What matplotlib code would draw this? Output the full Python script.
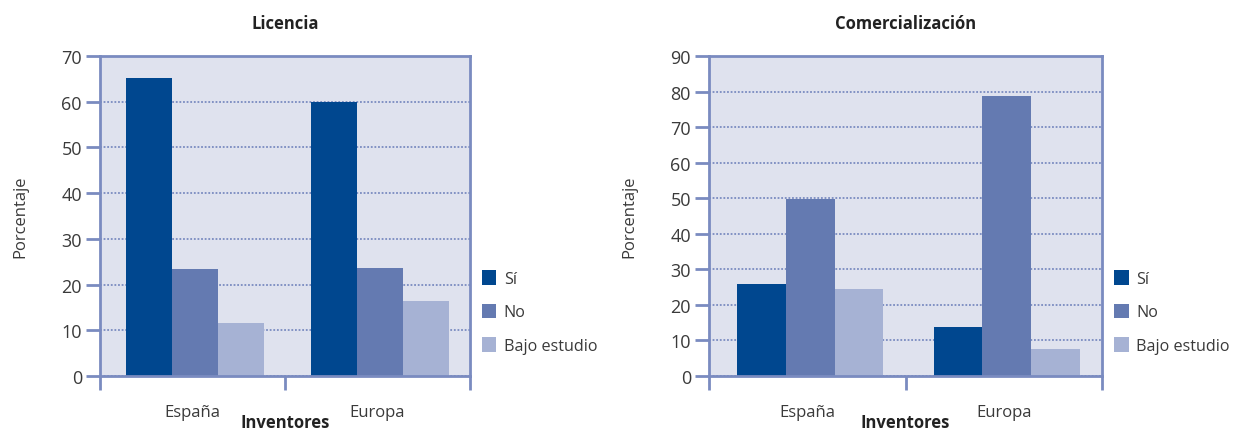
import matplotlib
matplotlib.use("Agg")
import matplotlib.pyplot as plt
import numpy as np

categories = ["España", "Europa"]
series = ["Sí", "No", "Bajo estudio"]
licencia_si = [65.2, 60.0]
licencia_no = [23.5, 23.7]
licencia_bajo = [11.7, 16.3]
comerc_si = [26.0, 13.9]
comerc_no = [49.7, 78.8]
comerc_bajo = [24.5, 7.7]

colors = ["#00478F", "#647AB1", "#A6B2D4"]
bg = "#DFE2EE"
spine_c = "#7A8BC0"
txt = "#3a3a3a"

plt.rcParams['font.family'] = ['Open Sans', 'DejaVu Sans']

fig = plt.figure(figsize=(12.33, 4.31), dpi=100)
W, H = 1233, 431

def make(ax_rect, data, ymax, title):
    l, t, r, b = ax_rect
    ax = fig.add_axes([l / W, 1 - b / H, (r - l) / W, (b - t) / H])
    ax.set_facecolor(bg)
    x = np.arange(len(categories))
    w = 0.248
    for i, vals in enumerate(data):
        ax.bar(x + (i - 1) * w + 0.015, vals, width=w, color=colors[i], zorder=3, label=series[i])
    ax.set_xlim(-0.5, 1.5)
    ax.set_ylim(0, ymax)
    ax.set_yticks(np.arange(0, ymax + 1, 10))
    ax.yaxis.grid(True, linestyle=(0, (1, 1)), color=spine_c, linewidth=1.3, zorder=1)
    for s in ax.spines.values():
        s.set_color(spine_c)
        s.set_linewidth(2)
        s.set_zorder(4)
    ax.tick_params(axis='y', direction='out', length=10, width=2, color=spine_c,
                   labelsize=13, labelcolor=txt, pad=3)
    ax.set_xticks([-0.5, 0.5, 1.5])
    ax.set_xticklabels(["", "", ""])
    ax.tick_params(axis='x', which='major', direction='out', length=10, width=2, color=spine_c)
    ax.set_xticks(x, minor=True)
    ax.set_xticklabels(categories, minor=True)
    ax.tick_params(axis='x', which='minor', length=0, pad=20, labelsize=12, labelcolor=txt)
    ax.set_xlabel("Inventores", fontsize=12, fontweight='bold', color="#222222", labelpad=-5)
    ax.set_ylabel("Porcentaje", fontsize=12, color=txt, labelpad=24)
    ax.set_title(title, fontsize=12, fontweight='bold', color="#222222", pad=20)
    ax.legend(loc='upper left', bbox_to_anchor=(1.015, 0.35), frameon=False,
              fontsize=11.6, handlelength=0.9, handleheight=1.05, handletextpad=0.45,
              labelspacing=1.0, borderaxespad=0, labelcolor=txt)
    return ax

make((100, 57, 470, 377), [licencia_si, licencia_no, licencia_bajo], 70, "Licencia")
make((709, 57, 1102, 377), [comerc_si, comerc_no, comerc_bajo], 90, "Comercialización")

fig.savefig("out.png", dpi=100, facecolor="white")
